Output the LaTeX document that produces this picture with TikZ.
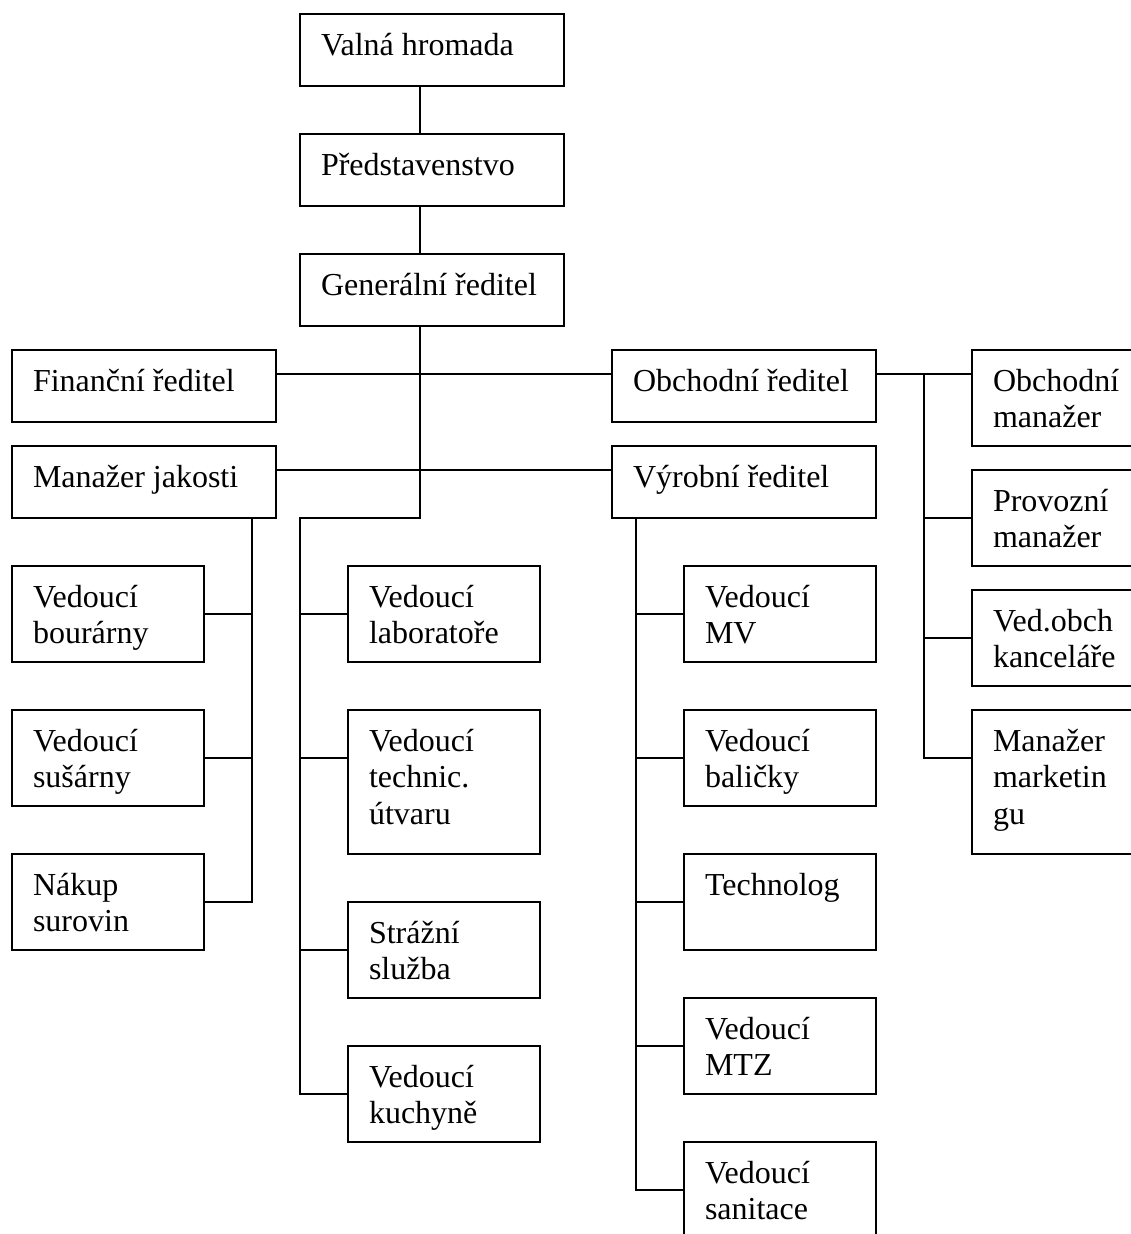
\documentclass[tikz,border=0pt]{standalone}
\usepackage{fontspec}
\setmainfont{Liberation Serif}
\usetikzlibrary{calc}

% Box contents: fixed width/height, text set from the top-left corner
\newcommand{\orgtext}[3]{%
  \parbox[t][#2pt][t]{#1pt}{\fontsize{32pt}{36.8pt}\selectfont
    \raggedright\leftskip=21pt\relax\rule{0pt}{41pt}#3}}

\tikzset{
  orgbox/.style={draw, line width=2pt, inner sep=0pt, outer sep=0pt, anchor=north west},
  link/.style={line width=2pt, line join=miter},
}

\begin{document}
\begin{tikzpicture}[x=1pt, y=-1pt]
\useasboundingbox (0,0) rectangle (1131,1234);
\fill[white] (0,0) rectangle (1131,1234);
\clip (0,0) rectangle (1131,1234);

% bus lines (x positions)
\coordinate (tk)   at (420,0);
\coordinate (lb)   at (300,0);
\coordinate (qb)   at (252,0);
\coordinate (vbus) at (636,0);
\coordinate (obus) at (924,0);

% top of the hierarchy
\node[orgbox] (vh) at (300,14)  {\orgtext{264}{72}{Valná hromada}};
\node[orgbox] (pr) at (300,134) {\orgtext{264}{72}{Představenstvo}};
\node[orgbox] (gr) at (300,254) {\orgtext{264}{72}{Generální ředitel}};

% directors
\node[orgbox] (fr) at (12,350)  {\orgtext{264}{72}{Finanční ředitel}};
\node[orgbox] (mj) at (12,446)  {\orgtext{264}{72}{Manažer jakosti}};
\node[orgbox] (or) at (612,350) {\orgtext{264}{72}{Obchodní ředitel}};
\node[orgbox] (vr) at (612,446) {\orgtext{264}{72}{Výrobní ředitel}};

% sales department
\node[orgbox] (om) at (972,350) {\orgtext{192}{96}{Obchodní\\manažer}};
\node[orgbox] (pm) at (972,470) {\orgtext{192}{96}{Provozní\\manažer}};
\node[orgbox] (vk) at (972,590) {\orgtext{192}{96}{Ved.obch\\kanceláře}};
\node[orgbox] (mm) at (972,710) {\orgtext{192}{144}{Manažer\\marketin\\gu}};

% quality department
\node[orgbox] (vb) at (12,566) {\orgtext{192}{96}{Vedoucí\\bourárny}};
\node[orgbox] (vs) at (12,710) {\orgtext{192}{96}{Vedoucí\\sušárny}};
\node[orgbox] (ns) at (12,854) {\orgtext{192}{96}{Nákup\\surovin}};

% units under the general director
\node[orgbox] (vl)  at (348,566)  {\orgtext{192}{96}{Vedoucí\\laboratoře}};
\node[orgbox] (vt)  at (348,710)  {\orgtext{192}{144}{Vedoucí\\technic.\\útvaru}};
\node[orgbox] (ss)  at (348,902)  {\orgtext{192}{96}{Strážní\\služba}};
\node[orgbox] (vku) at (348,1046) {\orgtext{192}{96}{Vedoucí\\kuchyně}};

% production department
\node[orgbox] (mv)   at (684,566)  {\orgtext{192}{96}{Vedoucí\\MV}};
\node[orgbox] (bal)  at (684,710)  {\orgtext{192}{96}{Vedoucí\\baličky}};
\node[orgbox] (tech) at (684,854)  {\orgtext{192}{96}{Technolog}};
\node[orgbox] (mtz)  at (684,998)  {\orgtext{192}{96}{Vedoucí\\MTZ}};
\node[orgbox] (san)  at (684,1142) {\orgtext{192}{96}{Vedoucí\\sanitace}};

% attachment points on the box sides
\coordinate (fr-r) at ($(fr.north east)+(0,24)$);
\coordinate (mj-r) at ($(mj.north east)+(0,24)$);
\coordinate (or-l) at ($(or.north west)+(0,24)$);
\coordinate (vr-l) at ($(vr.north west)+(0,24)$);
\coordinate (or-r) at ($(or.north east)+(0,24)$);
\coordinate (om-l) at ($(om.north west)+(0,24)$);
\foreach \n in {pm,vk,mm,vl,vt,ss,vku,mv,bal,tech,mtz,san}
  \coordinate (\n-l) at ($(\n.north west)+(0,48)$);
\foreach \n in {vb,vs,ns}
  \coordinate (\n-r) at ($(\n.north east)+(0,48)$);

% main trunk
\draw[link] (vh.south -| tk) -- (pr.north -| tk);
\draw[link] (pr.south -| tk) -- (gr.north -| tk);
\draw[link] (gr.south -| tk) -- (tk |- vr.south) -- (lb |- vr.south) |- (vku-l);
\foreach \n in {vl,vt,ss}
  \draw[link] (lb |- \n-l) -- (\n-l);

% directors
\draw[link] (fr-r) -- (or-l);
\draw[link] (mj-r) -- (vr-l);

% sales branch
\draw[link] (or-r) -- (om-l);
\draw[link] (obus |- or-r) |- (mm-l);
\foreach \n in {pm,vk}
  \draw[link] (obus |- \n-l) -- (\n-l);

% quality branch
\draw[link] (mj.south -| qb) |- (ns-r);
\foreach \n in {vb,vs}
  \draw[link] (\n-r) -- (qb |- \n-r);

% production branch
\draw[link] (vr.south -| vbus) |- (san-l);
\foreach \n in {mv,bal,tech,mtz}
  \draw[link] (vbus |- \n-l) -- (\n-l);
\end{tikzpicture}
\end{document}
